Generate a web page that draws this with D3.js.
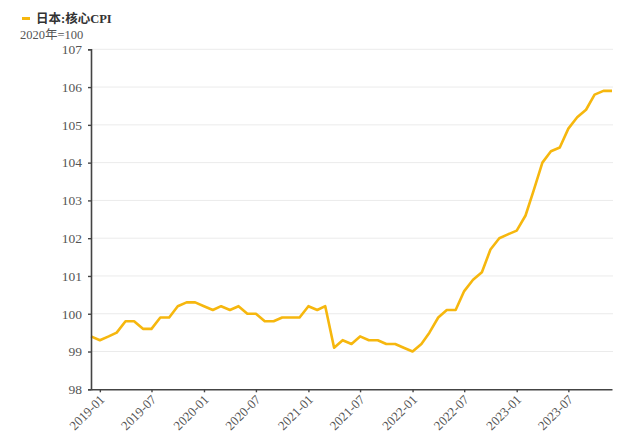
<!DOCTYPE html>
<html><head><meta charset="utf-8">
<script src="https://cdn.jsdelivr.net/npm/d3@7"></script>
<style>body{margin:0;background:#fff;}svg{display:block;}</style>
</head><body>
<svg id="c" width="640" height="437"></svg>
<script>
const seriesName = "日本:核心CPI";
const unitLabel = "2020年=100";
const startMonth = "2018-12";
const values = [99.4,99.3,99.4,99.5,99.8,99.8,99.6,99.6,99.9,99.9,100.2,100.3,100.3,
  100.2,100.1,100.2,100.1,100.2,100.0,100.0,99.8,99.8,99.9,99.9,99.9,
  100.2,100.1,100.2,99.1,99.3,99.2,99.4,99.3,99.3,99.2,99.2,99.1,
  99.0,99.2,99.5,99.9,100.1,100.1,100.6,100.9,101.1,101.7,102.0,102.1,
  102.2,102.6,103.25,104.0,104.3,104.4,104.9,105.2,105.4,105.8,105.9,105.9];
const xTickLabels = ["2019-01","2019-07","2020-01","2020-07","2021-01","2021-07","2022-01","2022-07","2023-01","2023-07"];
const yTicks = [98,99,100,101,102,103,104,105,106,107];

const parse = d3.timeParse("%Y-%m");
const fmt = d3.timeFormat("%Y-%m");
const t0 = parse(startMonth);
const data = values.map((v,i)=>({date:d3.timeMonth.offset(t0,i), v}));

const svg = d3.select("#c");
const L=91, R=612, T=49.3, B=389.3;
const x = d3.scaleTime().domain([data[0].date, data[data.length-1].date]).range([L,R]);
const y = d3.scaleLinear().domain([98,107]).range([B,T]);

// gridlines
svg.append("g").selectAll("line").data(yTicks.filter(d=>d>98)).join("line")
  .attr("x1",L).attr("x2",R+1).attr("y1",d=>y(d)).attr("y2",d=>y(d))
  .attr("stroke","#ebebeb").attr("stroke-width",1);

// line
svg.append("path").datum(data)
  .attr("fill","none").attr("stroke","#f6b70e").attr("stroke-width",2.6)
  .attr("stroke-linejoin","round")
  .attr("d", d3.line().x(d=>x(d.date)).y(d=>y(d.v)));

// y axis
const ya = svg.append("g").attr("transform",`translate(${L},0)`)
  .call(d3.axisLeft(y).tickValues(yTicks).tickSize(3).tickPadding(6).tickFormat(d3.format("d")));
ya.select(".domain").attr("stroke","#444").attr("stroke-width",1.6);
ya.selectAll(".tick line").attr("stroke","#444").attr("stroke-width",1.4);
ya.selectAll("text").attr("font-family","Liberation Serif").attr("font-size",13.5).attr("fill","#555");

// x axis
const xa = svg.append("g").attr("transform",`translate(0,${B})`)
  .call(d3.axisBottom(x).tickValues(xTickLabels.map(parse)).tickSize(3).tickSizeOuter(0).tickFormat(fmt));
xa.select(".domain").attr("stroke","#444").attr("stroke-width",1.6);
xa.selectAll(".tick line").attr("stroke","#444").attr("stroke-width",1.4);
xa.selectAll("text").attr("font-family","Liberation Serif").attr("font-size",13).attr("fill","#555")
  .attr("text-anchor","end").attr("dy",null).attr("y",0)
  .attr("transform","translate(5,11) rotate(-45)");

// legend
svg.append("line").attr("x1",22).attr("x2",30).attr("y1",18.5).attr("y2",18.5)
  .attr("stroke","#f6b70e").attr("stroke-width",3);
svg.append("text").attr("x",36).attr("y",23).text(seriesName)
  .attr("font-family","Liberation Serif, Noto Sans CJK SC").attr("font-weight","bold")
  .attr("font-size",12.5).attr("fill","#333");
svg.append("text").attr("x",20).attr("y",39).text(unitLabel)
  .attr("font-family","Liberation Serif, Noto Sans CJK SC")
  .attr("font-size",12.5).attr("fill","#555");
</script>
</body></html>
